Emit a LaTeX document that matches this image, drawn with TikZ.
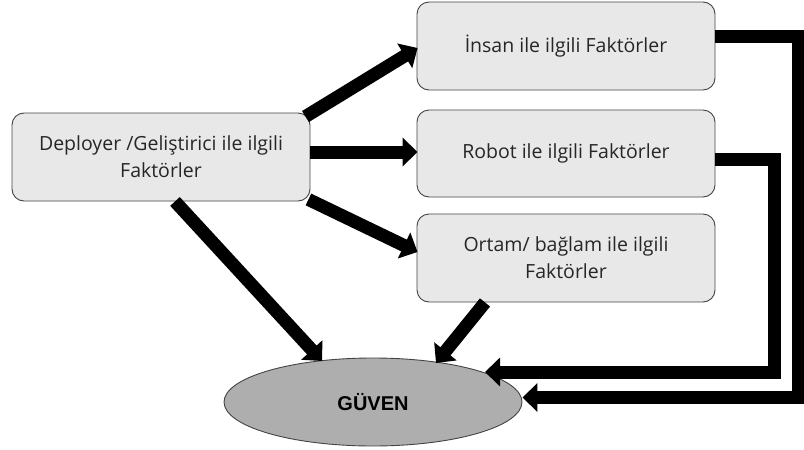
\documentclass[tikz,border=0pt]{standalone}
\usepackage{fontspec}
\setmainfont{Open Sans}
\newfontfamily\guvfont{Liberation Sans}
\usetikzlibrary{arrows.meta,shapes.geometric,calc}
\definecolor{boxfill}{HTML}{E8E8E8}
\definecolor{boxdraw}{HTML}{444444}
\definecolor{txt}{HTML}{262626}
\definecolor{ellfill}{HTML}{AEAEAE}
\begin{document}
\begin{tikzpicture}[x=1pt,y=-1pt,
  factorbox/.style={draw=boxdraw,fill=boxfill,line width=0.9pt,rounded corners=12pt,
    minimum width=298pt,minimum height=88pt,inner sep=0pt,align=center,text=txt,
    font=\fontsize{19.5}{27}\selectfont},
  trustnode/.style={ellipse,draw=boxdraw,fill=ellfill,line width=0.9pt,
    minimum width=298pt,minimum height=88pt,inner sep=0pt,text=black,
    font=\guvfont\bfseries\fontsize{20}{22}\selectfont},
  bigarrow/.style={line width=13pt,draw=black,-{Triangle[length=15pt,width=28pt]}}
]
\useasboundingbox (0,0) rectangle (804,450);
\node[factorbox] (dep) at (161,157) {Deployer /Geliştirici ile ilgili\\Faktörler};
\node[factorbox] (ins) at (566,46) {İnsan ile ilgili Faktörler};
\node[factorbox,minimum height=87pt] (rob) at (566,153.5) {Robot ile ilgili Faktörler};
\node[factorbox] (ort) at (566,258) {Ortam/ bağlam ile ilgili\\Faktörler};
\node[trustnode] (guv) at (373,402) {GÜVEN};

\coordinate (c1) at (798.5,397.5);
\coordinate (c2) at (774.5,372);

\draw[bigarrow] ($(dep.north east)+(-5,4)$) -- ($(ins.west)+(1,2)$);
\draw[bigarrow] ($(dep.east)+(0,-5)$) -- ($(rob.west)+(1,-1.5)$);
\draw[bigarrow] ($(dep.south east)+(-2,-2)$) -- ($(ort.west)+(1,-6)$);
\draw[bigarrow] ($(dep.south)+(14,0)$) -- ($(guv.center)+(-51,-41)$);
\draw[bigarrow] ($(ort.south)+(-81,0)$) -- ($(guv.center)+(63,-39)$);
\draw[bigarrow] ($(ins.east)+(0,-9.5)$) -| (c1) -- ($(guv.east)+(0,-4.5)$);
\draw[bigarrow] ($(rob.east)+(0,5.5)$) -| (c2) -- ($(guv.center)+(112,-30)$);
\end{tikzpicture}
\end{document}
